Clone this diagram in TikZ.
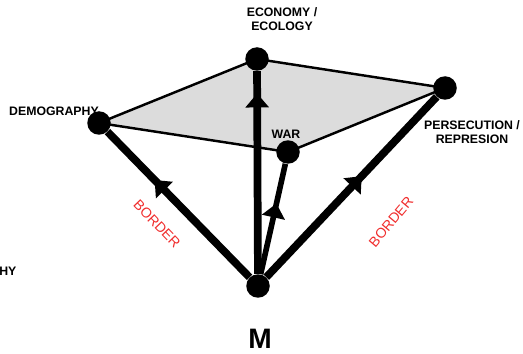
\documentclass[tikz,border=0pt]{standalone}
\usepackage{fontspec}
\setmainfont{Liberation Sans}
\usepackage{xcolor}
\usetikzlibrary{arrows.meta,decorations.markings,backgrounds}
\definecolor{borderred}{RGB}{240,45,45}
\definecolor{planegray}{RGB}{220,220,220}

\begin{document}
\begin{tikzpicture}[x=0.02cm, y=-0.02cm,
	dot/.style={circle, fill=black, inner sep=0pt, minimum size=0.47cm},
	lbl/.style={font=\bfseries\fontsize{7}{8}\selectfont, align=center},
	push/.style={line width=#1, postaction={decorate}},
	tipat/.style={decoration={markings, mark=at position #1 with {\arrow{Triangle[length=8pt,width=13pt]}}}},
	side/.style={text=borderred, font=\fontsize{8}{9}\selectfont}]
	\useasboundingbox (0,0) rectangle (523,354);
	% corners of the plane and the origin
	\node[dot] (eco) at (257,59) {};%
	\node[dot] (demo) at (99,123) {};%
	\node[dot] (pers) at (445,88) {};%
	\node[dot] (war) at (288,152) {};%
	\node[dot] (m) at (258,286) {};%
	\begin{scope}[on background layer]
		\filldraw[fill=planegray, draw=black, line width=1.4pt] (demo.center) -- (eco.center) -- (pers.center) -- (war.center) -- cycle;%
	\end{scope}
	% pushes from M
	\draw[push=4.4pt, tipat=0.67] (m) -- (demo);%
	\draw[push=4.4pt, tipat=0.89] (m) -- (eco);%
	\draw[push=3.2pt, tipat=0.64] (m) -- (war);%
	\draw[push=4.4pt, tipat=0.56] (m) -- (pers);%
	% labels
	\node[lbl] (ecolbl) at (282,19) {ECONOMY /\\ECOLOGY};%
	\node[lbl] (demolbl) at (54,111) {DEMOGRAPHY};%
	\node[lbl] (warlbl) at (286,134) {WAR};%
	\node[lbl] (perslbl) at (472,132) {PERSECUTION /\\REPRESION};%
	\node[lbl, anchor=west, inner sep=0pt] (cutlbl) at (-1,271) {HY};%
	\node[font=\bfseries\fontsize{16}{18}\selectfont] (mlbl) at (260,339) {M};%
	\node[side, rotate=-46] (leftlbl) at (157,224) {BORDER};%
	\node[side, rotate=50] (rightlbl) at (391,222) {BORDER};%
\end{tikzpicture}
\end{document}
